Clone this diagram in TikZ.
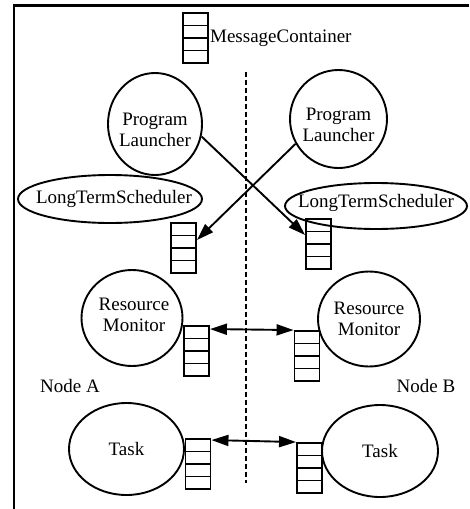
\documentclass[tikz,border=0pt]{standalone}
\usepackage{fontspec}
\setmainfont{Liberation Serif}
\usetikzlibrary{shapes.geometric,arrows.meta,calc}
\begin{document}
\begin{tikzpicture}[x=1pt,y=-1pt,
  every node/.style={font=\fontsize{19}{21}\selectfont},
  every label/.style={align=center, inner sep=0pt},
  shp/.style={draw, ellipse, line width=1.9pt, inner sep=0pt},
  queue/.style={draw, rectangle, line width=1.9pt, inner sep=0pt,
    minimum width=25pt, minimum height=50pt,
    path picture={\foreach \f in {0.25,0.5,0.75}{
      \draw[line width=1.9pt]
        ($(path picture bounding box.north west)!\f!(path picture bounding box.south west)$) --
        ($(path picture bounding box.north east)!\f!(path picture bounding box.south east)$);}}},
  txt/.style={inner sep=0pt},
  arr/.style={line width=1.9pt, -{Triangle[length=17pt,width=11pt]}},
  dbl/.style={line width=1.9pt, {Triangle[length=17pt,width=11pt]}-{Triangle[length=17pt,width=11pt]}},
  sep/.style={line width=1.9pt, dash pattern=on 5pt off 3pt},
  frame/.style={line width=2.5pt}
]
\useasboundingbox (0,0) rectangle (469,509);
% frame (top and left edges)
\draw[frame] (14,509) -- (14,5.3) -- (469,5.3);
% separator
\draw[sep] (246,72) -- (246,483);

% message container legend
\node[queue] (mq) at (195.5,38) {};
\node[txt, anchor=west] (mqt) at ([xshift=1pt]mq.east) {MessageContainer};

% program launchers
\node[shp, minimum width=94pt, minimum height=102pt,
  label={[yshift=-5.5pt]center:{Program\\Launcher}}] (plA) at (155,124) {};
\node[shp, minimum width=97pt, minimum height=98pt,
  label={[yshift=-6pt]center:{Program\\Launcher}}] (plB) at (338.5,119) {};

% long term schedulers
\node[shp, minimum width=184pt, minimum height=48pt,
  label={[xshift=4pt]center:{LongTermScheduler}}] (ltsA) at (110,199) {};
\node[shp, minimum width=182pt, minimum height=46pt,
  label={[yshift=3pt]center:{LongTermScheduler}}] (ltsB) at (376,206) {};

\node[queue] (ltqA) at (183.5,248) {};
\node[queue] (ltqB) at (318.5,244) {};

% resource monitors
\node[shp, minimum width=101pt, minimum height=96pt,
  label={[yshift=3.5pt,xshift=2pt]center:{Resource\\Monitor}}] (rmA) at (132,318) {};
\node[shp, minimum width=102pt, minimum height=95pt,
  label={center:{Resource\\Monitor}}] (rmB) at (369,319) {};

\node[queue] (rmqA) at (196.5,351) {};
\node[queue] (rmqB) at (307,356) {};

% node labels
\node[txt, anchor=base] (na) at (70,392) {Node A};
\node[txt, anchor=base] (nb) at (426,392) {Node B};

% tasks
\node[shp, minimum width=115pt, minimum height=92pt,
  label={center:{Task}}] (tA) at (126.5,449) {};
\node[shp, minimum width=116pt, minimum height=92pt,
  label={center:{Task}}] (tB) at (380,451) {};

\node[queue] (tqA) at (198,464) {};
\node[queue] (tqB) at (309.5,468) {};

% connectors
\draw[arr] (plA.-15) -- ([yshift=9pt]ltqB.west);
\draw[arr] (plB.210) -- ([yshift=8pt]ltqA.east);
\draw[dbl] ([yshift=-4pt]rmqA.north east) -- (rmqB.north west);
\draw[dbl] ([yshift=-2pt]tqA.north east) -- (tqB.north west);
\end{tikzpicture}
\end{document}
